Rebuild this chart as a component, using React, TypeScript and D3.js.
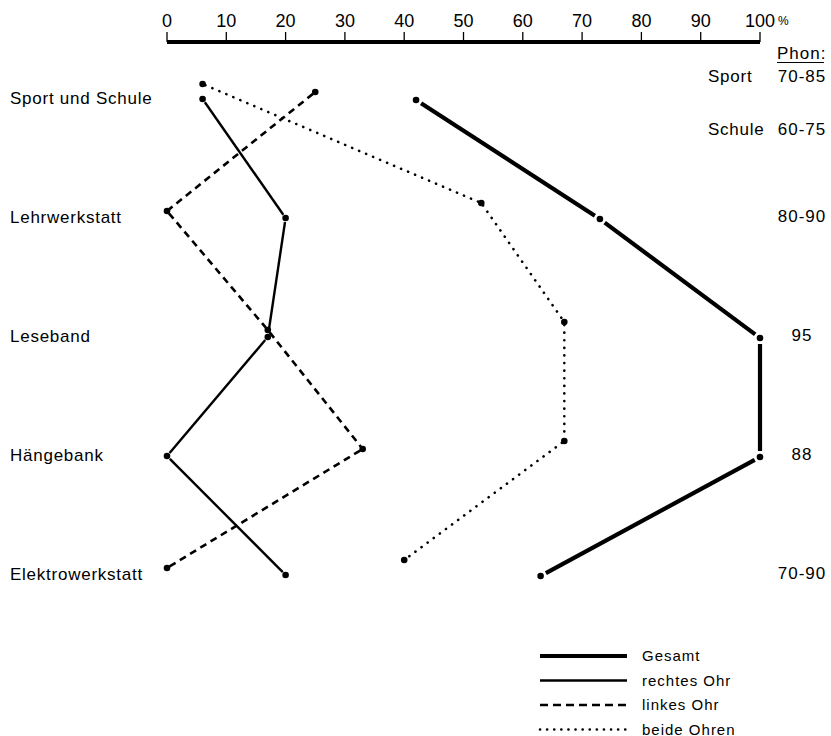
import React from "react";
import * as d3 from "d3";

const categories = ["Sport und Schule", "Lehrwerkstatt", "Leseband", "Hängebank", "Elektrowerkstatt"];
const gesamt = [42, 73, 100, 100, 63];
const rechtesOhr = [6, 20, 17, 0, 20];
const linkesOhr = [25, 0, 17, 33, 0];
const beideOhren = [6, 53, 67, 67, 40];

const phonNames = ["Sport", "Schule", "", "", "", ""];
const phonValues = ["70-85", "60-75", "80-90", "95", "88", "70-90"];
const phonRows = [-0.18, 0.27, 1, 2, 3, 4];

const legendLabels = ["Gesamt", "rechtes Ohr", "linkes Ohr", "beide Ohren"];

const FONT = "'Liberation Sans', Arial, Helvetica, sans-serif";
const NARROW = "'Liberation Sans Narrow', 'Liberation Sans', Arial, sans-serif";

type Style = { width: number; dash?: string; cap?: string; offset: number; gap: number };
const styles: Style[] = [
  { width: 4.2, offset: 4, gap: 6 },
  { width: 2.4, offset: 3, gap: 4 },
  { width: 2.6, dash: "7 5", offset: -4, gap: 3 },
  { width: 2.6, dash: "0.1 7.5", cap: "round", offset: -12, gap: 3 },
];
const seriesData = [gesamt, rechtesOhr, linkesOhr, beideOhren];

export default function App() {
  const W = 831, H = 736;
  const x = d3.scaleLinear().domain([0, 100]).range([167, 760]);
  const rowY = d3.scaleLinear().domain([0, categories.length - 1]).range([96, 572]);
  const ticks = x.ticks(10);
  const axisY = 42;

  const segs = (vals: number[], s: Style) => {
    const pts = vals.map((v, i) => [x(v), rowY(i) + s.offset]);
    const out: string[] = [];
    for (let i = 0; i < pts.length - 1; i++) {
      const [x1, y1] = pts[i];
      const [x2, y2] = pts[i + 1];
      const len = Math.hypot(x2 - x1, y2 - y1);
      const ux = (x2 - x1) / len, uy = (y2 - y1) / len;
      const p = d3.path();
      p.moveTo(x1 + ux * s.gap, y1 + uy * s.gap);
      p.lineTo(x2 - ux * s.gap, y2 - uy * s.gap);
      out.push(p.toString());
    }
    return { pts, out };
  };

  return (
    <svg width={W} height={H} style={{ position: "absolute", left: 0, top: 0, background: "#fff" }} fontFamily={FONT}>
      <rect width={W} height={H} fill="#fff" />
      {/* top axis */}
      <line x1={x(0)} x2={x(100)} y1={axisY} y2={axisY} stroke="#000" strokeWidth={4} />
      {ticks.map((t) => (
        <g key={t}>
          <line x1={x(t)} x2={x(t)} y1={axisY} y2={axisY - 10} stroke="#000" strokeWidth={1.3} />
          <text x={x(t)} y={27} textAnchor="middle" fontFamily={NARROW} fontSize={18} fill="#000">{t}</text>
        </g>
      ))}
      <text x={778} y={25} fontSize={12} fill="#000">%</text>
      <text x={777} y={59} fontSize={17} letterSpacing={1} fill="#000">Phon:</text>
      <line x1={777} x2={824} y1={62.5} y2={62.5} stroke="#000" strokeWidth={1} />

      {/* category labels */}
      {categories.map((c, i) => (
        <text key={c} x={10} y={rowY(i) + 8} fontSize={17} letterSpacing={0.75} fill="#000">{c}</text>
      ))}

      {/* phon labels */}
      {phonValues.map((v, i) => (
        <g key={i}>
          {phonNames[i] && (
            <text x={708} y={rowY(phonRows[i]) + 7} fontSize={17} letterSpacing={0.75} fill="#000">{phonNames[i]}</text>
          )}
          <text x={802} y={rowY(phonRows[i]) + 7} textAnchor="middle" fontSize={17} letterSpacing={1} fill="#000">{v}</text>
        </g>
      ))}

      {/* series */}
      {seriesData.map((vals, si) => {
        const s = styles[si];
        const { pts, out } = segs(vals, s);
        return (
          <g key={si}>
            {out.map((d, k) => (
              <path key={k} d={d} fill="none" stroke="#000" strokeWidth={s.width}
                strokeDasharray={s.dash} strokeLinecap={(s.cap as any) || "butt"} />
            ))}
            {pts.map(([px, py], k) => (
              <circle key={k} cx={px} cy={py} r={3.3} fill="#000" />
            ))}
          </g>
        );
      })}

      {/* legend */}
      {legendLabels.map((l, i) => {
        const s = styles[i];
        const y = 656 + i * 24.5;
        return (
          <g key={l}>
            <line x1={540} x2={627} y1={y} y2={y} stroke="#000" strokeWidth={s.width}
              strokeDasharray={s.dash ? (i === 3 ? "0.1 7" : "8 5") : undefined}
              strokeLinecap={(s.cap as any) || "butt"} />
            <text x={642} y={y + 5} fontSize={15} letterSpacing={1} fill="#000">{l}</text>
          </g>
        );
      })}
    </svg>
  );
}
